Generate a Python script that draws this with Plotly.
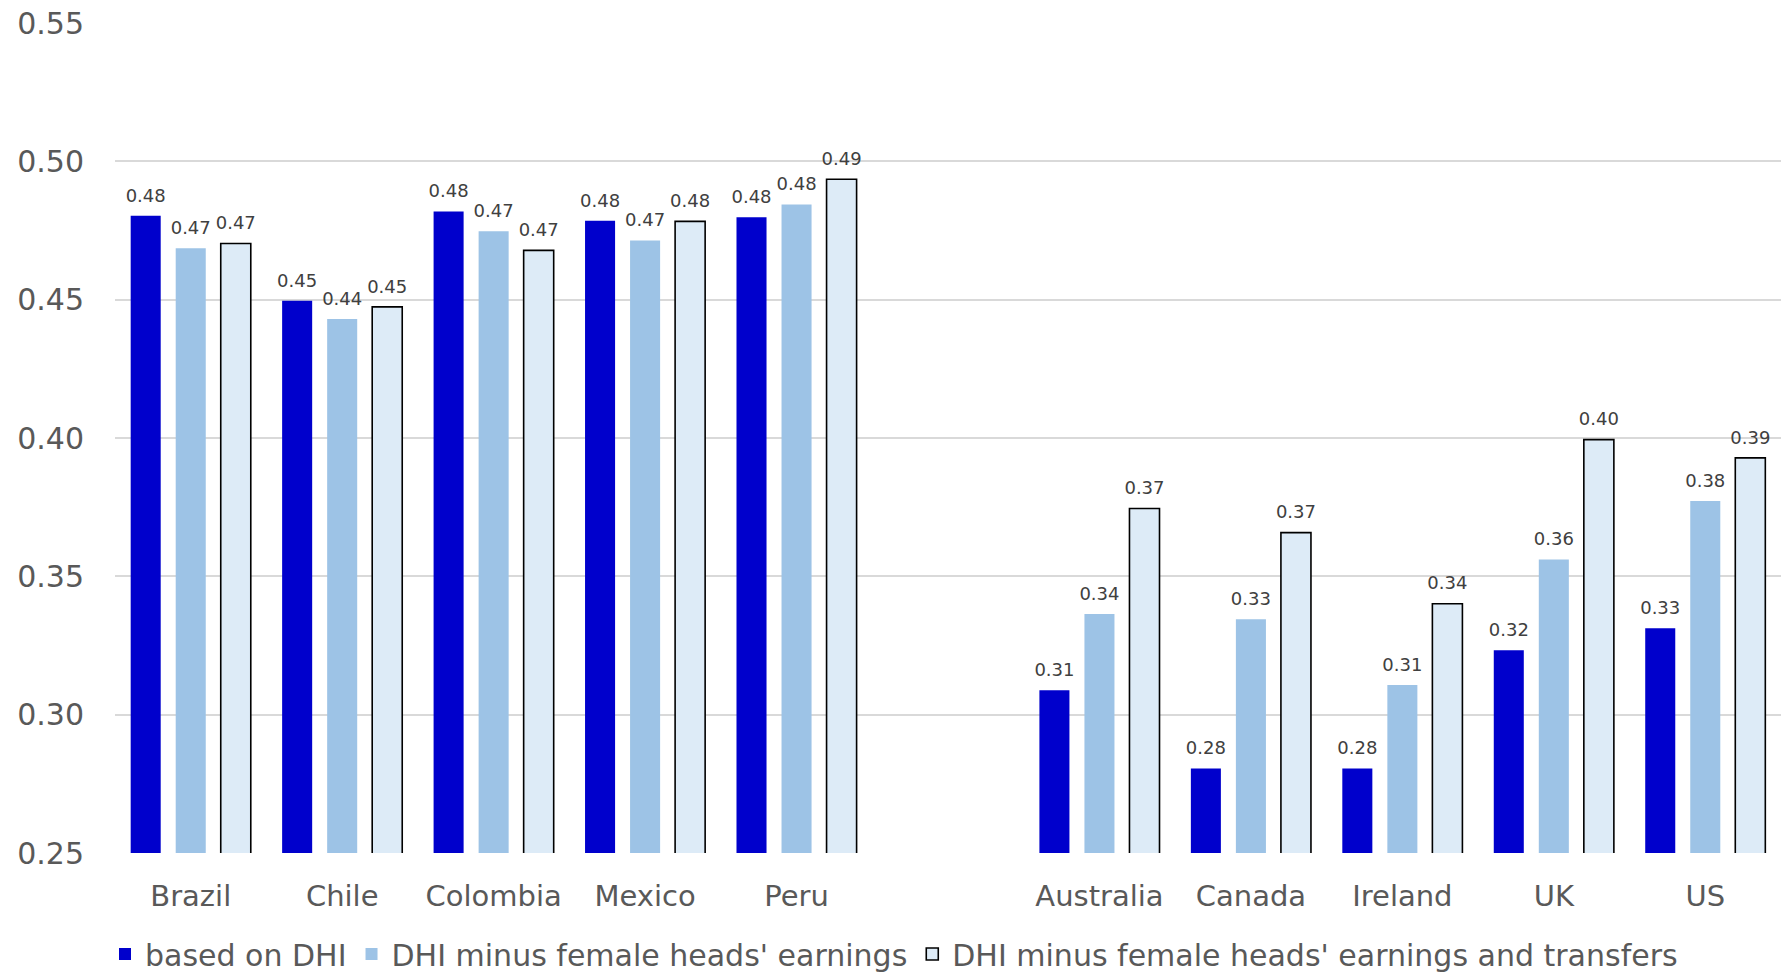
import plotly.graph_objects as go

categories = ["Brazil", "Chile", "Colombia", "Mexico", "Peru", " ",
              "Australia", "Canada", "Ireland", "UK", "US"]

series_names = ["based on DHI",
                "DHI minus female heads' earnings",
                "DHI minus female heads' earnings and transfers"]

dhi = [0.4803, 0.4496, 0.4819, 0.4785, 0.4798, None,
       0.3088, 0.2805, 0.2805, 0.3233, 0.3312]
minus_earnings = [0.4686, 0.4430, 0.4747, 0.4714, 0.4844, None,
                  0.3364, 0.3345, 0.3107, 0.3561, 0.3772]
minus_earnings_transfers = [0.4703, 0.4474, 0.4678, 0.4783, 0.4935, None,
                            0.3745, 0.3658, 0.3401, 0.3994, 0.3928]

y_ticks = [0.25, 0.30, 0.35, 0.40, 0.45, 0.50, 0.55]

colors = ["#0000CC", "#9DC3E6", "#DDEBF7"]
line_colors = ["#0000CC", "#9DC3E6", "#000000"]
line_widths = [0, 0, 1.6]

FONT = "DejaVu Sans"
GAP = 0.108
fig = go.Figure()
all_vals = [dhi, minus_earnings, minus_earnings_transfers]
for name, vals, c, lc, lw in zip(series_names, all_vals, colors, line_colors, line_widths):
    fig.add_trace(go.Bar(
        x=categories, y=vals, name=name,
        marker=dict(color=c, line=dict(color=lc, width=lw)),
        cliponaxis=False,
    ))
# value labels, grouped like the bars
for name, vals in zip(series_names, all_vals):
    fig.add_trace(go.Scatter(
        x=categories, y=vals, mode="markers+text", showlegend=False,
        marker=dict(size=14, opacity=0),
        text=[None if v is None else f"{v:.2f}" for v in vals],
        textposition="top center",
        textfont=dict(family=FONT, size=18, color="#404040"),
        cliponaxis=False, hoverinfo="skip",
    ))

fig.update_layout(
    width=1785, height=975,
    margin=dict(l=115, r=4, t=23, b=122, autoexpand=False),
    paper_bgcolor="white", plot_bgcolor="white",
    barmode="group", bargap=GAP, bargroupgap=0.333,
    scattermode="group", scattergap=GAP,
    font=dict(family=FONT, color="#595959"),
    showlegend=True,
    legend=dict(orientation="h", x=-0.006, xanchor="left", y=-0.153, yanchor="bottom",
                font=dict(family=FONT, size=30, color="#595959"),
                itemwidth=30, traceorder="normal"),
)
fig.update_xaxes(
    type="category", categoryorder="array", categoryarray=categories,
    showgrid=False, showline=False, ticks="",
    tickfont=dict(family=FONT, size=29, color="#595959"),
    ticklabelstandoff=23,
)
fig.update_yaxes(
    range=[0.25, 0.55], tickvals=y_ticks, tickformat=".2f",
    showgrid=True, gridcolor="#D9D9D9", gridwidth=1.5,
    zeroline=False, showline=False, ticks="",
    tickfont=dict(family=FONT, size=30, color="#595959"),
    ticklabelstandoff=30,
)
fig.write_html("out.html")
